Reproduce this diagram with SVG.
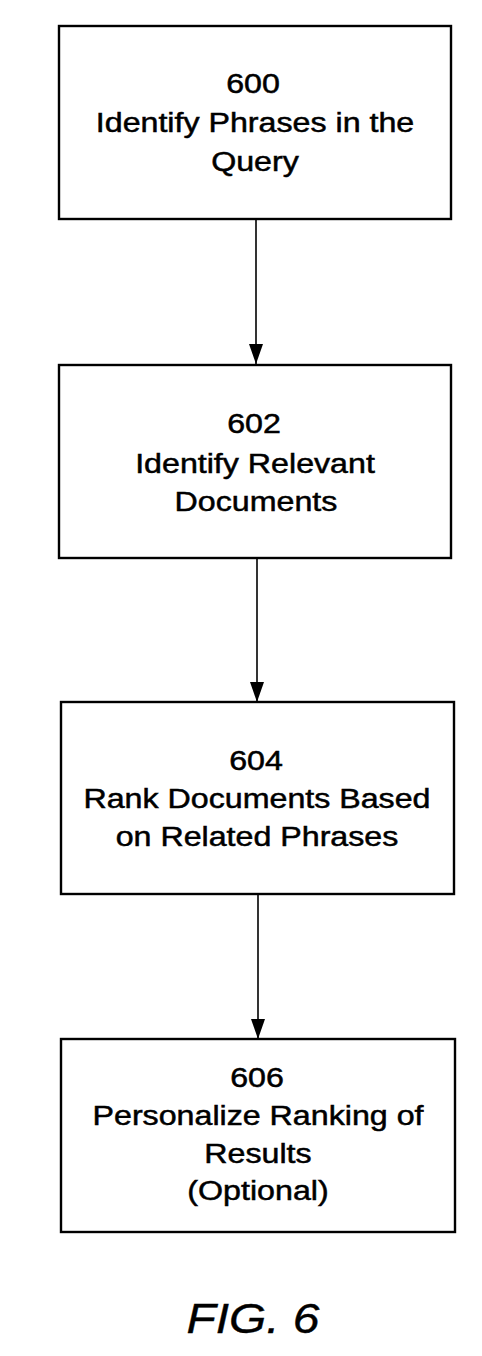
<svg xmlns="http://www.w3.org/2000/svg" width="482" height="1356" viewBox="0 0 482 1356">
<style>
.box{fill:#fff;stroke:#000;stroke-width:2.4}
.t{font-family:"Liberation Sans",Arial,sans-serif;font-size:28px;fill:#000;stroke:#000;stroke-width:0.5;text-anchor:middle}
.fig{font-family:"Liberation Sans",Arial,sans-serif;font-size:42px;font-style:italic;fill:#000;stroke:#000;stroke-width:0.4;text-anchor:middle}
.c{stroke:#000;stroke-width:1.6;fill:none}
</style>
<defs>
<marker id="ah" markerUnits="userSpaceOnUse" markerWidth="20" markerHeight="14" refX="20" refY="7" orient="auto" viewBox="0 0 20 14">
<path d="M0,0 L20,7 L0,14 Z" fill="#000"/>
</marker>
</defs>
<rect width="482" height="1356" fill="#fff"/>
<g id="connectors">
<line class="c" x1="256" y1="219" x2="256" y2="364" marker-end="url(#ah)"/>
<line class="c" x1="257" y1="558" x2="257" y2="702" marker-end="url(#ah)"/>
<line class="c" x1="258" y1="894" x2="258" y2="1039" marker-end="url(#ah)"/>
</g>
<g id="n600">
<rect class="box" x="59" y="26" width="392" height="193"/>
<text class="t" transform="translate(253,93) scale(1.15,1)">600</text>
<text class="t" transform="translate(255,132) scale(1.15,1)">Identify Phrases in the</text>
<text class="t" transform="translate(255,171) scale(1.15,1)">Query</text>
</g>
<g id="n602">
<rect class="box" x="59" y="365" width="392" height="193"/>
<text class="t" transform="translate(254,433) scale(1.15,1)">602</text>
<text class="t" transform="translate(255,473) scale(1.15,1)">Identify Relevant</text>
<text class="t" transform="translate(256,511) scale(1.15,1)">Documents</text>
</g>
<g id="n604">
<rect class="box" x="61" y="702" width="393" height="192"/>
<text class="t" transform="translate(256,770) scale(1.15,1)">604</text>
<text class="t" transform="translate(257,808) scale(1.15,1)">Rank Documents Based</text>
<text class="t" transform="translate(257,846) scale(1.15,1)">on Related Phrases</text>
</g>
<g id="n606">
<rect class="box" x="61" y="1039" width="394" height="193"/>
<text class="t" transform="translate(257,1087) scale(1.15,1)">606</text>
<text class="t" transform="translate(258,1125) scale(1.15,1)">Personalize Ranking of</text>
<text class="t" transform="translate(258,1163) scale(1.15,1)">Results</text>
<text class="t" transform="translate(258,1200) scale(1.15,1)">(Optional)</text>
</g>
<text class="fig" transform="translate(253,1333) scale(1.14,1)">FIG. 6</text>
</svg>
